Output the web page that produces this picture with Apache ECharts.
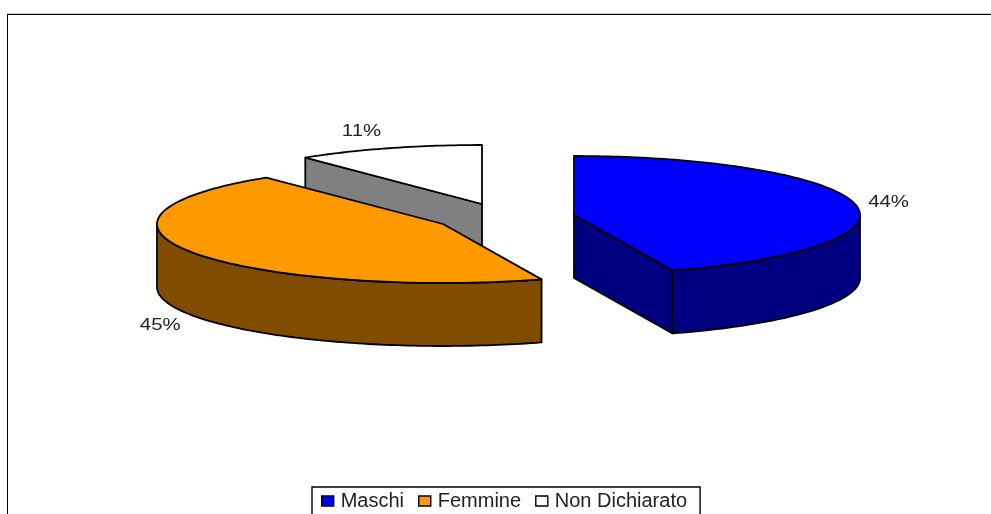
<!DOCTYPE html>
<html>
<head>
<meta charset="utf-8">
<style>html,body{margin:0;padding:0;background:#fff;overflow:hidden}#c{width:991px;height:514px}</style>
<script src="https://cdn.jsdelivr.net/npm/echarts@6/dist/echarts.min.js"></script>
</head>
<body>
<div id="c"></div>
<script>
const categories = ['Maschi', 'Femmine', 'Non Dichiarato'];
const shares = [44.4, 45.0, 10.6];
const topColors = ['#0000FF', '#FF9900', '#FFFFFF'];
const wallColors = ['#000080', '#804C00', '#808080'];

// Exploded-pie layout: ellipse centres, radii, extrusion, label offsets
const centres = [[574, 215], [443, 224], [482, 204]];
const labelShift = [[33, -2], [-33, 73], [-27, -17]];
const RX = 286, RY = 59, DEPTH = 63;
const FONT = '"Liberation Sans", Arial, sans-serif';

const total = shares.reduce((a, b) => a + b, 0);
const starts = [];
shares.reduce((acc, v, i) => { starts[i] = acc; return acc + v; }, 0);
const toAngle = v => v / total * 2 * Math.PI;

function ring(c, a, dy) {
  return [c[0] + RX * Math.sin(a), c[1] - RY * Math.cos(a) + (dy || 0)];
}
function arc(c, a0, a1, dy) {
  const n = Math.max(2, Math.ceil(Math.abs(a1 - a0) / 0.02));
  const pts = [];
  for (let k = 0; k <= n; k++) pts.push(ring(c, a0 + (a1 - a0) * k / n, dy));
  return pts;
}
function outlined(points, fill) {
  return {
    type: 'polygon',
    shape: { points: points },
    style: { fill: fill, stroke: '#000', lineWidth: 1.8, lineJoin: 'round' }
  };
}

function makeRenderItem(i) {
  return function (params, api) {
    const c = centres[i];
    const v = api.value(0);
    const a0 = toAngle(starts[i]);
    const a1 = a0 + toAngle(v);
    const children = [];
    const below = p => [p[0], p[1] + DEPTH];
    const face = function (a) {
      const rim = ring(c, a);
      children.push(outlined([c, rim, below(rim), below(c)], wallColors[i]));
    };

    // Cut faces that turn toward the viewer
    if (Math.sin(a0) < -1e-6) face(a0);
    if (Math.sin(a1) > 1e-6) face(a1);

    // Outer wall on the front half of the ellipse
    const w0 = Math.max(a0, Math.PI / 2);
    const w1 = Math.min(a1, 3 * Math.PI / 2);
    if (w1 > w0) {
      const top = arc(c, w0, w1, 0);
      const bottom = arc(c, w1, w0, DEPTH);
      children.push(outlined(top.concat(bottom), wallColors[i]));
    }

    // Top face
    children.push(outlined([c].concat(arc(c, a0, a1, 0)), topColors[i]));

    // Percent label
    const mid = ring(c, (a0 + a1) / 2);
    children.push({
      type: 'text',
      x: mid[0] + labelShift[i][0],
      y: mid[1] + labelShift[i][1],
      scaleX: 1.2,
      style: {
        x: 0,
        y: 0,
        text: Math.round(v) + '%',
        fill: '#222',
        font: '17px ' + FONT,
        align: 'center',
        verticalAlign: 'middle'
      }
    });
    return { type: 'group', children: children };
  };
}

const chart = echarts.init(document.getElementById('c'), null, { renderer: 'canvas' });
chart.setOption({
  animation: false,
  backgroundColor: '#fff',
  tooltip: { show: false },
  legend: {
    data: categories,
    left: 312,
    top: 487,
    orient: 'horizontal',
    icon: 'rect',
    itemWidth: 12,
    itemHeight: 10,
    itemGap: 14,
    padding: [4, 13, 12, 9],
    selectedMode: false,
    borderColor: '#000',
    borderWidth: 1.4,
    backgroundColor: '#fff',
    textStyle: { fontFamily: FONT, fontSize: 20, color: '#222', padding: [0, 0, 0, 2] },
    itemStyle: { borderColor: '#000', borderWidth: 1.4 }
  },
  graphic: [
    { type: 'line', z: 0, shape: { x1: 7, y1: 13.5, x2: 991, y2: 13.5 }, style: { stroke: '#c8c8c8', lineWidth: 1 } },
    { type: 'line', z: 0, shape: { x1: 7, y1: 14.5, x2: 991, y2: 14.5 }, style: { stroke: '#000', lineWidth: 1 } },
    { type: 'line', z: 0, shape: { x1: 7.5, y1: 14, x2: 7.5, y2: 514 }, style: { stroke: '#000', lineWidth: 1 } }
  ],
  series: categories.map(function (name, i) {
    return {
      type: 'custom',
      name: name,
      coordinateSystem: 'none',
      z: 5 - i,
      silent: true,
      itemStyle: { color: topColors[i] },
      data: [{ name: name, value: [shares[i]] }],
      renderItem: makeRenderItem(i)
    };
  })
});
</script>
</body>
</html>
